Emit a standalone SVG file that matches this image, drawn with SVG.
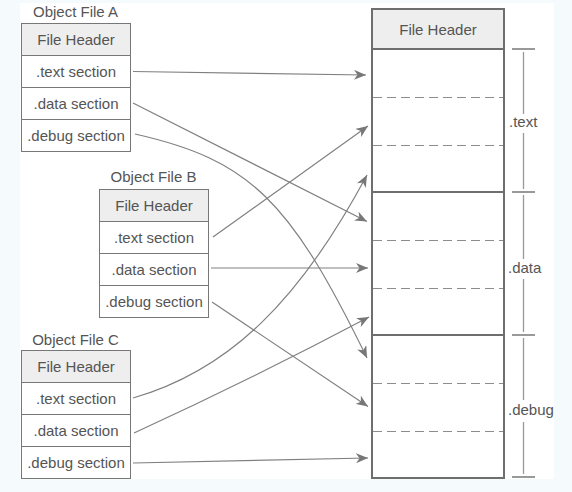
<svg xmlns="http://www.w3.org/2000/svg" width="572" height="492" viewBox="0 0 572 492">
<style>
text{font-family:"Liberation Sans",Arial,sans-serif;font-size:15px;fill:#555}
.c{text-anchor:middle}
.row{fill:#fff;stroke:#777;stroke-width:1}
.hdr{fill:#eeeeee;stroke:#777;stroke-width:1}
.con{fill:none;stroke:#808080;stroke-width:1.2;marker-end:url(#ah)}
.dash{stroke:#8c8c8c;stroke-width:1.2;stroke-dasharray:9 5}
.sol{stroke:#6e6e6e;stroke-width:2}
.tick{stroke:#777;stroke-width:1.5}
.vl{stroke:#999;stroke-width:1.3}
</style>
<defs>
<marker id="ah" markerUnits="userSpaceOnUse" markerWidth="12" markerHeight="10" refX="12" refY="5" orient="auto">
<path d="M0,0 L12,5 L0,10 L3.5,5 Z" fill="#777"/>
</marker>
</defs>
<rect x="0" y="0" width="572" height="492" fill="#f5fafd"/>
<rect x="20" y="3" width="534" height="476" fill="#fff"/>

<g id="objA">
<text class="c" x="75.5" y="16.5">Object File A</text>
<rect class="hdr" x="21.5" y="23.5" width="109" height="32"/>
<rect class="row" x="21.5" y="55.5" width="109" height="32"/>
<rect class="row" x="21.5" y="87.5" width="109" height="32"/>
<rect class="row" x="21.5" y="119.5" width="109" height="32"/>
<text class="c" x="76" y="45">File Header</text>
<text class="c" x="76" y="77">.text section</text>
<text class="c" x="76" y="109">.data section</text>
<text class="c" x="76" y="141">.debug section</text>
</g>

<g id="objB">
<text class="c" x="153.5" y="182">Object File B</text>
<rect class="hdr" x="99.5" y="189.5" width="109" height="32"/>
<rect class="row" x="99.5" y="221.5" width="109" height="32"/>
<rect class="row" x="99.5" y="253.5" width="109" height="32"/>
<rect class="row" x="99.5" y="285.5" width="109" height="32"/>
<text class="c" x="154" y="211">File Header</text>
<text class="c" x="154" y="243">.text section</text>
<text class="c" x="154" y="275">.data section</text>
<text class="c" x="154" y="307">.debug section</text>
</g>

<g id="objC">
<text class="c" x="75.5" y="344.5">Object File C</text>
<rect class="hdr" x="21.5" y="350.5" width="109" height="32"/>
<rect class="row" x="21.5" y="382.5" width="109" height="32"/>
<rect class="row" x="21.5" y="414.5" width="109" height="32"/>
<rect class="row" x="21.5" y="446.5" width="109" height="32"/>
<text class="c" x="76" y="372">File Header</text>
<text class="c" x="76" y="404">.text section</text>
<text class="c" x="76" y="436">.data section</text>
<text class="c" x="76" y="468">.debug section</text>
</g>

<g id="exe">
<rect x="372" y="9" width="132" height="469" fill="#fff" stroke="#6e6e6e" stroke-width="2"/>
<rect x="373" y="10" width="130" height="39" fill="#eeeeee"/>
<line class="sol" x1="372" y1="49" x2="504" y2="49"/>
<line class="sol" x1="372" y1="192" x2="504" y2="192"/>
<line class="sol" x1="372" y1="335" x2="504" y2="335"/>
<line class="dash" x1="373" y1="97.5" x2="503" y2="97.5"/>
<line class="dash" x1="373" y1="145.5" x2="503" y2="145.5"/>
<line class="dash" x1="373" y1="240.5" x2="503" y2="240.5"/>
<line class="dash" x1="373" y1="288.5" x2="503" y2="288.5"/>
<line class="dash" x1="373" y1="383.5" x2="503" y2="383.5"/>
<line class="dash" x1="373" y1="431.5" x2="503" y2="431.5"/>
<text class="c" x="438" y="35">File Header</text>
</g>

<g id="brackets">
<line class="tick" x1="512" y1="49" x2="535" y2="49"/>
<line class="tick" x1="512" y1="192" x2="535" y2="192"/>
<line class="tick" x1="512" y1="335" x2="535" y2="335"/>
<line class="tick" x1="512" y1="477" x2="535" y2="477"/>
<line class="vl" x1="523.5" y1="52" x2="523.5" y2="114"/>
<line class="vl" x1="523.5" y1="133" x2="523.5" y2="189"/>
<line class="vl" x1="523.5" y1="195" x2="523.5" y2="259"/>
<line class="vl" x1="523.5" y1="279" x2="523.5" y2="332"/>
<line class="vl" x1="523.5" y1="338" x2="523.5" y2="400"/>
<line class="vl" x1="523.5" y1="422" x2="523.5" y2="474"/>
<text x="509" y="127">.text</text>
<text x="508" y="273">.data</text>
<text x="508" y="415">.debug</text>
</g>

<g id="connectors">
<path class="con" d="M133,71.5 L366,75"/>
<path class="con" d="M133,103 L367,221.5"/>
<path class="con" d="M135,134 C250,160 290,200 367,358"/>
<path class="con" d="M213,237 L368,126"/>
<path class="con" d="M211,268 L368,268"/>
<path class="con" d="M212,302 L368,406.5"/>
<path class="con" d="M133,398 C230,370 300,300 367,175"/>
<path class="con" d="M134,433 Q252,379 369,317"/>
<path class="con" d="M133,463 L368,458"/>
</g>
</svg>
